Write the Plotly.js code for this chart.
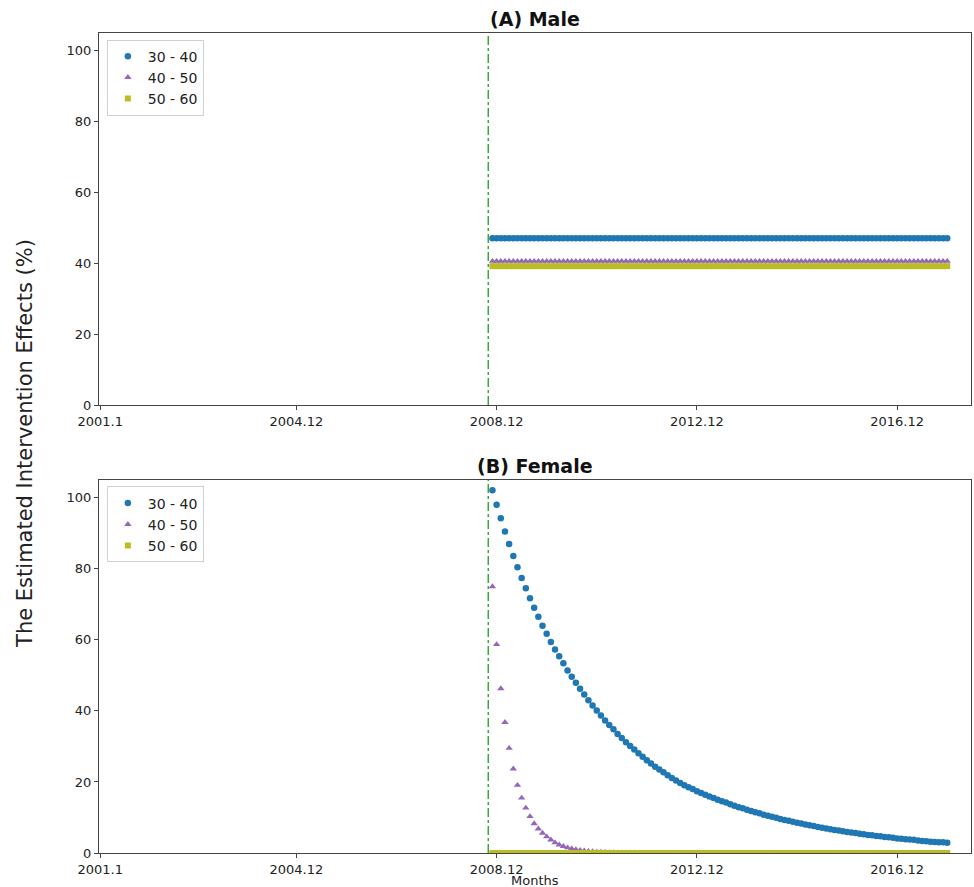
<!DOCTYPE html>
<html>
<head>
<meta charset="utf-8">
<script src="https://cdn.plot.ly/plotly-3.0.1.min.js"></script>
<style>html,body{margin:0;padding:0;background:#fff;}#chart{width:974px;height:887px;}</style>
</head>
<body>
<div id="chart"></div>
<script>
// ---- data ----
const groups = ['30 - 40', '40 - 50', '50 - 60'];
const tickLabels = ['2001.1', '2004.12', '2008.12', '2012.12', '2016.12'];
const firstMonth = '2008.11';   // first month with an estimate
const interventionMonth = '2008.10';

const male3040 = [
 47.1,47.1,47.1,47.1,47.1,47.1,47.1,47.1,47.1,47.1,
 47.1,47.1,47.1,47.1,47.1,47.1,47.1,47.1,47.1,47.1,
 47.1,47.1,47.1,47.1,47.1,47.1,47.1,47.1,47.1,47.1,
 47.1,47.1,47.1,47.1,47.1,47.1,47.1,47.1,47.1,47.1,
 47.1,47.1,47.1,47.1,47.1,47.1,47.1,47.1,47.1,47.1,
 47.1,47.1,47.1,47.1,47.1,47.1,47.1,47.1,47.1,47.1,
 47.1,47.1,47.1,47.1,47.1,47.1,47.1,47.1,47.1,47.1,
 47.1,47.1,47.1,47.1,47.1,47.1,47.1,47.1,47.1,47.1,
 47.1,47.1,47.1,47.1,47.1,47.1,47.1,47.1,47.1,47.1,
 47.1,47.1,47.1,47.1,47.1,47.1,47.1,47.1,47.1,47.1,
 47.1,47.1,47.1,47.1,47.1,47.1,47.1,47.1,47.1,47.1];
const male4050 = [
 40.6,40.6,40.6,40.6,40.6,40.6,40.6,40.6,40.6,40.6,
 40.6,40.6,40.6,40.6,40.6,40.6,40.6,40.6,40.6,40.6,
 40.6,40.6,40.6,40.6,40.6,40.6,40.6,40.6,40.6,40.6,
 40.6,40.6,40.6,40.6,40.6,40.6,40.6,40.6,40.6,40.6,
 40.6,40.6,40.6,40.6,40.6,40.6,40.6,40.6,40.6,40.6,
 40.6,40.6,40.6,40.6,40.6,40.6,40.6,40.6,40.6,40.6,
 40.6,40.6,40.6,40.6,40.6,40.6,40.6,40.6,40.6,40.6,
 40.6,40.6,40.6,40.6,40.6,40.6,40.6,40.6,40.6,40.6,
 40.6,40.6,40.6,40.6,40.6,40.6,40.6,40.6,40.6,40.6,
 40.6,40.6,40.6,40.6,40.6,40.6,40.6,40.6,40.6,40.6,
 40.6,40.6,40.6,40.6,40.6,40.6,40.6,40.6,40.6,40.6];
const male5060 = [
 39.2,39.2,39.2,39.2,39.2,39.2,39.2,39.2,39.2,39.2,
 39.2,39.2,39.2,39.2,39.2,39.2,39.2,39.2,39.2,39.2,
 39.2,39.2,39.2,39.2,39.2,39.2,39.2,39.2,39.2,39.2,
 39.2,39.2,39.2,39.2,39.2,39.2,39.2,39.2,39.2,39.2,
 39.2,39.2,39.2,39.2,39.2,39.2,39.2,39.2,39.2,39.2,
 39.2,39.2,39.2,39.2,39.2,39.2,39.2,39.2,39.2,39.2,
 39.2,39.2,39.2,39.2,39.2,39.2,39.2,39.2,39.2,39.2,
 39.2,39.2,39.2,39.2,39.2,39.2,39.2,39.2,39.2,39.2,
 39.2,39.2,39.2,39.2,39.2,39.2,39.2,39.2,39.2,39.2,
 39.2,39.2,39.2,39.2,39.2,39.2,39.2,39.2,39.2,39.2,
 39.2,39.2,39.2,39.2,39.2,39.2,39.2,39.2,39.2,39.2];

const female3040 = [
 102.1,98.0,94.2,90.5,87.0,83.6,80.4,77.4,74.5,71.7,
 69.0,66.5,64.0,61.7,59.4,57.3,55.4,53.4,51.4,49.6,
 47.9,46.2,44.6,43.0,41.5,40.1,38.7,37.3,36.0,34.8,
 33.5,32.4,31.2,30.1,29.1,28.1,27.1,26.1,25.2,24.3,
 23.5,22.7,21.9,21.1,20.4,19.7,19.1,18.5,18.0,17.4,
 16.9,16.4,15.9,15.5,15.0,14.6,14.2,13.7,13.3,12.9,
 12.6,12.2,11.8,11.5,11.2,10.8,10.5,10.2,9.9,9.6,
 9.3,9.1,8.8,8.5,8.3,8.0,7.8,7.6,7.3,7.1,
 6.9,6.7,6.5,6.3,6.1,5.9,5.8,5.6,5.4,5.3,
 5.1,5.0,4.8,4.7,4.5,4.4,4.3,4.1,4.0,3.9,
 3.8,3.7,3.5,3.4,3.3,3.2,3.1,3.0,3.0,2.9];
const female4050 = [
 75.0,58.7,46.3,36.8,29.5,23.7,19.1,15.5,12.7,10.3,
 8.3,6.8,5.6,4.6,3.7,2.9,2.3,1.9,1.5,1.2,
 0.95,0.76,0.61,0.49,0.39,0.31,0.25,0.2,0.16,0.13,
 0.1,0.08,0.06,0.05,0.04,0.03,0.03,0.02,0.02,0.01,
 0,0,0,0,0,0,0,0,0,0,
 0,0,0,0,0,0,0,0,0,0,
 0,0,0,0,0,0,0,0,0,0,
 0,0,0,0,0,0,0,0,0,0,
 0,0,0,0,0,0,0,0,0,0,
 0,0,0,0,0,0,0,0,0,0,
 0,0,0,0,0,0,0,0,0,0];
const female5060 = [
 0,0,0,0,0,0,0,0,0,0,
 0,0,0,0,0,0,0,0,0,0,
 0,0,0,0,0,0,0,0,0,0,
 0,0,0,0,0,0,0,0,0,0,
 0,0,0,0,0,0,0,0,0,0,
 0,0,0,0,0,0,0,0,0,0,
 0,0,0,0,0,0,0,0,0,0,
 0,0,0,0,0,0,0,0,0,0,
 0,0,0,0,0,0,0,0,0,0,
 0,0,0,0,0,0,0,0,0,0,
 0,0,0,0,0,0,0,0,0,0];

// ---- helpers: month label -> month index since 2001.1 ----
function monthIndex(label) {
  const [y, m] = label.split('.').map(Number);
  return (y - 2001) * 12 + (m - 1);
}
const x0 = monthIndex(firstMonth);
const xs = female3040.map((_, i) => x0 + i);
const tickVals = tickLabels.map(monthIndex);
const vlineX = monthIndex(interventionMonth);

const colors = ['#1f77b4', '#9467bd', '#bcbd22'];
const symbols = ['circle', 'triangle-up', 'square'];
const sizes = [6.5, 6.5, 6];
const maleSeries = [male3040, male4050, male5060];
const femaleSeries = [female3040, female4050, female5060];

const traces = [];
maleSeries.forEach((ys, k) => traces.push({
  type: 'scatter', mode: 'markers', x: xs, y: ys, name: groups[k],
  xaxis: 'x', yaxis: 'y', legend: 'legend',
  marker: {color: colors[k], symbol: symbols[k], size: sizes[k], line: {width: 0}}
}));
femaleSeries.forEach((ys, k) => traces.push({
  type: 'scatter', mode: 'markers', x: xs, y: ys, name: groups[k],
  xaxis: 'x2', yaxis: 'y2', legend: 'legend2',
  marker: {color: colors[k], symbol: symbols[k], size: sizes[k], line: {width: 0}}
}));

const font = {family: 'DejaVu Sans, sans-serif', color: '#222'};
const topDom = [0.5463, 1];
const botDom = [0, 0.4549];
const xRange = [-0.3, 208.7];

function xAxis(anchor) {
  return {
    anchor: anchor, domain: [0, 1], range: xRange,
    tickmode: 'array', tickvals: tickVals, ticktext: tickLabels,
    ticks: 'outside', ticklen: 4, tickwidth: 1, tickcolor: '#444',
    showline: true, mirror: true, linecolor: '#444', linewidth: 1,
    showgrid: false, zeroline: false,
    tickfont: {family: font.family, size: 13, color: '#222'}
  };
}
function yAxis(anchor, dom) {
  return {
    anchor: anchor, domain: dom, range: [0, 105],
    tickmode: 'array', tickvals: [0, 20, 40, 60, 80, 100],
    ticks: 'outside', ticklen: 4, tickwidth: 1, tickcolor: '#444',
    showline: true, mirror: true, linecolor: '#444', linewidth: 1,
    showgrid: false, zeroline: false,
    tickfont: {family: font.family, size: 13, color: '#222'}
  };
}
function legend(yTop) {
  return {
    x: 0.009, y: yTop, xanchor: 'left', yanchor: 'top',
    bgcolor: 'rgba(255,255,255,0.8)', bordercolor: '#d0d0d0', borderwidth: 1,
    font: {family: font.family, size: 14, color: '#222'},
    tracegroupgap: 0, itemwidth: 30
  };
}

const layout = {
  width: 974, height: 887,
  margin: {l: 99, r: 3, t: 33, b: 34},
  paper_bgcolor: '#fff', plot_bgcolor: '#fff',
  showlegend: true,
  xaxis: xAxis('y'), yaxis: yAxis('x', topDom),
  xaxis2: xAxis('y2'), yaxis2: yAxis('x2', botDom),
  legend: legend(0.992),
  legend2: legend(0.447),
  shapes: [
    {type: 'line', xref: 'x', yref: 'y domain', x0: vlineX, x1: vlineX, y0: 0, y1: 1,
     line: {color: '#3aa83a', width: 1.5, dash: 'dashdot'}},
    {type: 'line', xref: 'x2', yref: 'y2 domain', x0: vlineX, x1: vlineX, y0: 0, y1: 1,
     line: {color: '#3aa83a', width: 1.5, dash: 'dashdot'}}
  ],
  annotations: [
    {text: '<b>(A) Male</b>', xref: 'paper', yref: 'paper', x: 0.5, y: 1, yanchor: 'bottom',
     yshift: 1, showarrow: false, font: {family: font.family, size: 19, color: '#111'}},
    {text: '<b>(B) Female</b>', xref: 'paper', yref: 'paper', x: 0.5, y: botDom[1], yanchor: 'bottom',
     yshift: 1, showarrow: false, font: {family: font.family, size: 19, color: '#111'}},
    {text: 'The Estimated Intervention Effects (%)', xref: 'paper', yref: 'paper',
     x: -0.085, y: 0.5, xanchor: 'center', yanchor: 'middle', textangle: -90, showarrow: false,
     font: {family: font.family, size: 21, color: '#222'}},
    {text: 'Months', xref: 'paper', yref: 'paper', x: 0.5, y: 0, yanchor: 'top', yshift: -18,
     showarrow: false, font: {family: font.family, size: 13, color: '#222'}}
  ]
};

Plotly.newPlot('chart', traces, layout, {displayModeBar: false, staticPlot: true});
</script>
</body>
</html>
